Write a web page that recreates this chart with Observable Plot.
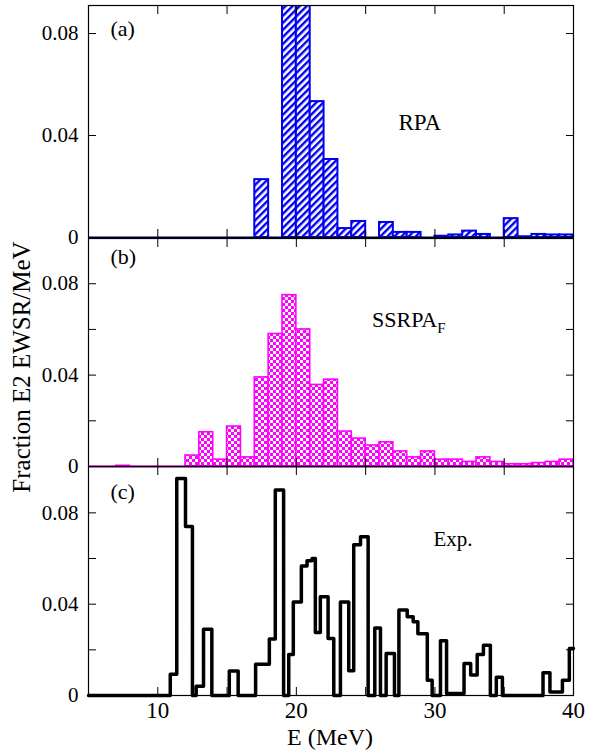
<!DOCTYPE html>
<html>
<head>
<meta charset="utf-8">
<script src="https://cdn.jsdelivr.net/npm/d3@7"></script>
<script src="https://cdn.jsdelivr.net/npm/@observablehq/plot@0.6"></script>
<style>
  body { margin: 0; background: #fff; }
  #wrap { position: relative; width: 597px; height: 753px; font-family: "Liberation Serif", "Times New Roman", Times, serif; }
  #wrap svg { display: block; }
  .ylab { position: absolute; left: 22px; top: 367px; transform: translate(-50%, -50%) rotate(-90deg); font-size: 25px; white-space: nowrap; }
  .xlab { position: absolute; left: 330px; top: 724px; transform: translateX(-50%); font-size: 24px; white-space: nowrap; }
  .ss { position: absolute; left: 372px; top: 309px; font-size: 22px; white-space: nowrap; line-height: 1; }
  .ss sub { font-size: 15px; vertical-align: -6px; }
</style>
</head>
<body>
<div id="wrap">
  <div id="pa"></div><div id="pb"></div><div id="pc"></div>
  <div class="ylab">Fraction E2 EWSR/MeV</div>
  <div class="xlab">E (MeV)</div>
  <div class="ss">SSRPA<sub>F</sub></div>
</div>
<script>
// bin start energies (1 MeV bins)
const rpaE = [17, 19, 20, 21, 22, 23, 24, 26, 27, 28, 30, 31, 32, 33, 35, 36, 37, 38, 39]
const rpaV = [0.0227, 0.13, 0.11, 0.0533, 0.0306, 0.0035, 0.0063, 0.0059, 0.002, 0.002, 0.0005, 0.001, 0.0025, 0.0012, 0.0074, 0.0003, 0.0012, 0.001, 0.001]

const ssE = [7, 12, 13, 14, 15, 16, 17, 18, 19, 20, 21, 22, 23, 24, 25, 26, 27, 28, 29, 30, 31, 32, 33, 34, 35, 36, 37, 38, 39]
const ssV = [0.0003, 0.0048, 0.015, 0.003, 0.0175, 0.004, 0.039, 0.058, 0.075, 0.060, 0.0357, 0.038, 0.0153, 0.0122, 0.0092, 0.0106, 0.0066, 0.004, 0.0066, 0.003, 0.003, 0.002, 0.004, 0.002, 0.001, 0.001, 0.0015, 0.002, 0.003]

// experimental step curve: left edge of each step and its value
const expE = [5, 10.9, 11.37, 12.0, 12.5, 12.77, 13.3, 13.9, 15.16, 15.8, 17.06, 18.05, 18.48, 19.08, 19.45, 19.78, 20.36, 20.77, 21.13, 21.37, 21.73, 22.29, 22.7, 23.18, 23.78, 24.14, 24.63, 25.18, 25.66, 26.07, 26.48, 27.08, 27.4, 28.0, 28.43, 28.77, 29.45, 29.8, 30.4, 30.84, 32.1, 32.58, 33.05, 33.5, 34.0, 34.43, 34.87, 37.8, 38.3, 39.2, 39.7, 40]
const expV = [0, 0.0093, 0.095, 0.074, 0, 0.004, 0.029, 0, 0.0107, 0, 0.0137, 0.0247, 0.09, 0, 0.018, 0.041, 0.0567, 0.059, 0.060, 0.0276, 0.0432, 0.025, 0, 0.041, 0.0108, 0.066, 0.0695, 0, 0.0296, 0, 0.0184, 0, 0.0374, 0.0345, 0.0323, 0.027, 0.0067, 0, 0.024, 0.0009, 0.014, 0.009, 0.018, 0.022, 0, 0.008, 0, 0.01, 0.0015, 0.0067, 0.0206, 0.0206]

const xTicks = [5, 10, 15, 20, 25, 30, 35, 40]
const xLabels = [10, 20, 30, 40]

const rpa = rpaE.map((e, i) => ({e, v: rpaV[i]}))
const ss = ssE.map((e, i) => ({e, v: ssV[i]}))
const exp = expE.map((e, i) => ({e, v: expV[i]}))

const font = "'Liberation Serif', 'Times New Roman', Times, serif"

function panel({height, marginTop, marginBottom, ymax, yTicks, yLabels, marks, showX}) {
  return Plot.plot({
    width: 597, height, marginLeft: 88, marginRight: 24, marginTop, marginBottom,
    style: {fontFamily: font, fontSize: "20px", color: "black", overflow: "visible"},
    x: {domain: [5, 40]},
    y: {domain: [0, ymax]},
    marks: [
      ...marks,
      Plot.axisX({ticks: xTicks, tickSize: -8, tickFormat: () => "", anchor: "bottom", label: null}),
      Plot.axisX({ticks: xTicks, tickSize: -8, tickFormat: () => "", anchor: "top", label: null}),
      showX ? Plot.axisX({ticks: xLabels, tickSize: 0, tickPadding: 6, fontSize: 23, anchor: "bottom", label: null, fontFamily: font}) : null,
      Plot.axisY({ticks: yTicks, tickSize: -8, tickFormat: () => "", anchor: "left", label: null}),
      Plot.axisY({ticks: yTicks, tickSize: -8, tickFormat: () => "", anchor: "right", label: null}),
      Plot.axisY({ticks: yLabels, tickSize: 0, tickPadding: 10, fontSize: 21, anchor: "left", label: null, fontFamily: font, tickFormat: d => d === 0 ? "0" : String(d)}),
      Plot.frame({stroke: "black", strokeWidth: 1.2})
    ]
  })
}

const pa = panel({
  height: 237, marginTop: 5, marginBottom: 0, ymax: 0.091,
  yTicks: [0, 0.04, 0.08], yLabels: [0, 0.04, 0.08],
  marks: [
    Plot.ruleY([0], {stroke: "#0000ee", strokeWidth: 2}),
    Plot.rectY(rpa, {x1: "e", x2: d => d.e + 1, y: "v", fill: "url(#hatch)", stroke: "#0000ee", strokeWidth: 2, clip: true}),
    Plot.text(["(a)"], {frameAnchor: "top-left", dx: 22, dy: 15, fontSize: 22, textAnchor: "start", fontFamily: font}),
    Plot.text(["RPA"], {frameAnchor: "top-left", dx: 310, dy: 108, fontSize: 23, fontFamily: font})
  ]
})

const pb = panel({
  height: 229, marginTop: 1, marginBottom: 0, ymax: 0.0998,
  yTicks: [0, 0.02, 0.04, 0.06, 0.08], yLabels: [0, 0.04, 0.08],
  marks: [
    Plot.rectY(ss, {x1: "e", x2: d => d.e + 1, y: "v", fill: "url(#checker)", stroke: "#ff00ff", strokeWidth: 1.6}),
    Plot.ruleY([0], {stroke: "#cc00cc", strokeWidth: 2}),
    Plot.text(["(b)"], {frameAnchor: "top-left", dx: 22, dy: 10, fontSize: 22, textAnchor: "start", fontFamily: font})
  ]
})

const pc = panel({
  height: 287, marginTop: 0, marginBottom: 58, ymax: 0.1003, showX: true,
  yTicks: [0, 0.02, 0.04, 0.06, 0.08], yLabels: [0, 0.04, 0.08],
  marks: [
    Plot.line(exp, {x: "e", y: "v", curve: "step-after", stroke: "black", strokeWidth: 3.5}),
    Plot.text(["(c)"], {frameAnchor: "top-left", dx: 22, dy: 17, fontSize: 22, textAnchor: "start", fontFamily: font}),
    Plot.text(["Exp."], {frameAnchor: "top-left", dx: 345, dy: 65, fontSize: 21, textAnchor: "start", fontFamily: font})
  ]
})

// fill patterns
const defs = `<defs>
  <pattern id="hatch" patternUnits="userSpaceOnUse" width="5" height="5" patternTransform="rotate(45)">
    <rect width="5" height="5" fill="white"/><rect width="2.4" height="5" fill="#0000ee"/>
  </pattern>
  <pattern id="checker" patternUnits="userSpaceOnUse" width="6" height="6">
    <rect width="6" height="6" fill="white"/><rect width="3" height="3" fill="#ff00ff"/><rect x="3" y="3" width="3" height="3" fill="#ff00ff"/>
  </pattern></defs>`
d3.select(pa).insert("g", ":first-child").html(defs)

d3.select("#pa").append(() => pa)
d3.select("#pb").append(() => pb)
d3.select("#pc").append(() => pc)
</script>
</body>
</html>
